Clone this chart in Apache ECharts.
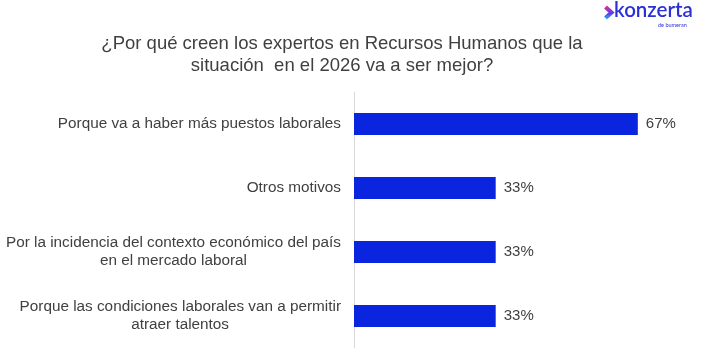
<!DOCTYPE html>
<html>
<head>
<meta charset="utf-8">
<script src="https://cdn.jsdelivr.net/npm/echarts@6/dist/echarts.min.js"></script>
<style>
html,body{margin:0;padding:0;background:#fff;}
#chart{width:702px;height:351px;}
</style>
</head>
<body>
<div id="chart"></div>
<script>
const titleText = '¿Por qué creen los expertos en Recursos Humanos que la\nsituación  en el 2026 va a ser mejor?';
const categories = [
  'Porque va a haber más puestos laborales',
  'Otros motivos',
  'Por la incidencia del contexto económico del país\nen el mercado laboral',
  'Porque las condiciones laborales van a permitir\natraer talentos'
];
const values = [66.7, 33.3, 33.3, 33.3];

const chart = echarts.init(document.getElementById('chart'));
const FONT = 'Liberation Sans';
const LABEL_SIZE = 15.3;
const MARGIN = 13;

const lines = categories.map(function (c) { return c.split('\n'); });

// measure lines so the second line can be centred under the first
const mctx = document.createElement('canvas').getContext('2d');
mctx.font = LABEL_SIZE + 'px "Liberation Sans"';
function textW(s) { const w = mctx.measureText(s).width; return isFinite(w) ? w : 0; }

function catIndex(value, idx) {
  const i = categories.indexOf(value);
  return i >= 0 ? i : idx;
}

function labelAxis(pick, margin, vAlign, showLine) {
  return {
    type: 'category',
    data: categories,
    inverse: true,
    position: 'left',
    offset: 0,
    axisLine: {show: showLine, lineStyle: {color: '#d9d9d9', width: 1}},
    axisTick: {show: false},
    splitLine: {show: false},
    axisLabel: {
      interval: 0,
      margin: margin,
      fontFamily: FONT,
      fontSize: LABEL_SIZE,
      lineHeight: 18,
      color: '#404040',
      align: 'right',
      verticalAlign: vAlign,
      formatter: function (value, idx) {
        const s = pick(catIndex(value, idx));
        return s || '';
      }
    }
  };
}

const yAxes = [
  // single-line labels
  labelAxis(function (k) { return lines[k] && lines[k].length === 1 ? lines[k][0] : ''; }, MARGIN, 'middle', true),
  // first lines of two-line labels
  labelAxis(function (k) { return lines[k] && lines[k].length > 1 ? lines[k][0] : ''; }, MARGIN, 'bottom', false)
];
// second lines, each centred under its first line
lines.forEach(function (ls, k) {
  if (ls.length > 1) {
    const pad = Math.max(0, Math.round((textW(ls[0]) - textW(ls[1])) / 2));
    yAxes.push(labelAxis(function (j) { return j === k ? ls[1] : ''; }, MARGIN + pad, 'top', false));
  }
});

const option = {
  backgroundColor: '#ffffff',
  animation: false,
  title: {
    text: titleText,
    left: 342,
    textAlign: 'center',
    top: 33,
    padding: 0,
    textStyle: {fontFamily: FONT, fontSize: 18.5, fontWeight: 'normal', color: '#404040', lineHeight: 22}
  },
  grid: {left: 354, top: 92, width: 340.4, height: 256, containLabel: false, outerBoundsMode: 'none'},
  xAxis: {type: 'value', min: 0, max: 80, show: false},
  yAxis: yAxes,
  series: [{
    type: 'bar',
    yAxisIndex: 0,
    data: values,
    barWidth: 22,
    itemStyle: {color: '#0a24e0'},
    label: {
      show: true,
      position: 'right',
      distance: 8,
      fontFamily: FONT,
      fontSize: 15,
      color: '#404040',
      formatter: function (p) { return Math.round(p.value) + '%'; }
    }
  }],
  graphic: [
    {
      type: 'polyline',
      shape: {points: [[605.5, 7], [611.5, 12.5], [605.5, 18]]},
      style: {
        lineWidth: 4.2,
        fill: null,
        stroke: new echarts.graphic.LinearGradient(0, 0, 0, 1, [
          {offset: 0, color: '#ff2d8a'},
          {offset: 0.55, color: '#5a3cf0'},
          {offset: 1, color: '#22c7f0'}
        ])
      }
    },
    {
      type: 'text',
      left: 614,
      top: 0,
      style: {text: 'konzerta', fontFamily: 'Lato, sans-serif', fontSize: 20.5, fontWeight: 600, fill: '#2b2fd6'}
    },
    {
      type: 'text',
      left: 658,
      top: 22,
      style: {text: 'de bumeran', fontFamily: 'Lato, sans-serif', fontSize: 5.5, fill: '#2b2fd6'}
    }
  ]
};
chart.setOption(option);
</script>
</body>
</html>
